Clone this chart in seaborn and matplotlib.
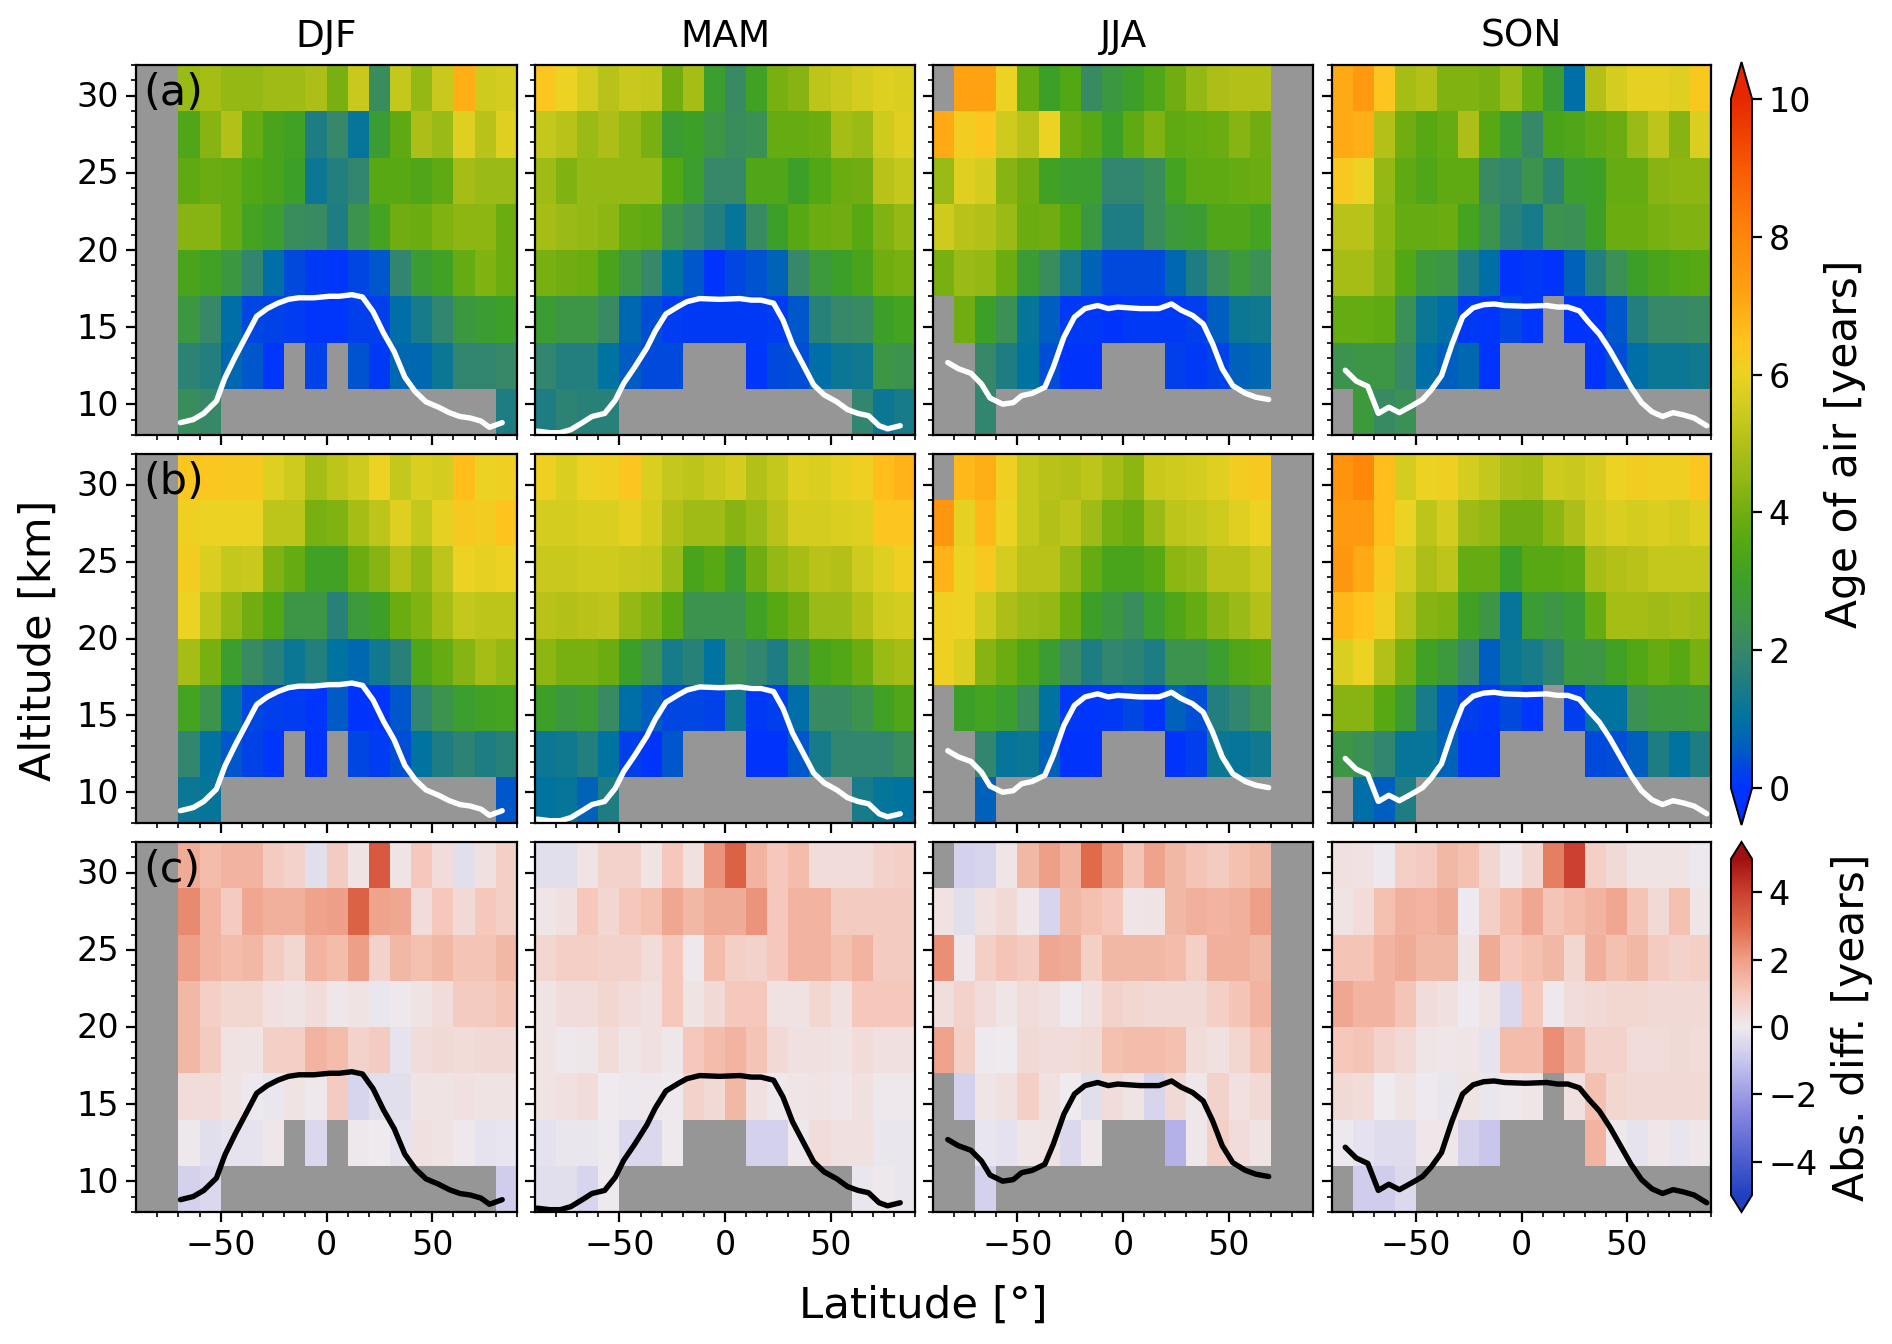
import numpy as np
import pandas as pd
import matplotlib
matplotlib.use('Agg')
import matplotlib.pyplot as plt
import seaborn as sns
from matplotlib.cm import ScalarMappable
from matplotlib.colors import LinearSegmentedColormap, Normalize
from matplotlib.ticker import FixedLocator, NullFormatter
from matplotlib.transforms import ScaledTranslation

n = np.nan

seasons = ['DJF', 'MAM', 'JJA', 'SON']
panel_tags = ['(a)', '(b)', '(c)']
lat_edges = np.arange(-90, 91, 10)
alt_edges = np.arange(32, 7, -3)

# rows go from the top layer (29-32 km) down to the bottom layer (8-11 km)
a_djf = [
    [n, n, 4.6, 4.8, 4.5, 4.5, 4.7, 4.7, 4.9, 4.1, 5.4, 2.2, 5.3, 4.5, 5.4, 6.9, 5.5, 5.6],
    [n, n, 3.4, 4.3, 5.0, 3.8, 3.3, 3.1, 1.5, 2.0, 1.1, 2.8, 3.7, 4.9, 4.6, 5.8, 5.1, 5.8],
    [n, n, 3.7, 3.9, 3.8, 3.5, 3.3, 3.0, 1.2, 1.6, 1.9, 3.6, 3.6, 3.4, 3.7, 4.8, 4.6, 4.6],
    [n, n, 4.3, 4.3, 3.8, 3.2, 2.9, 2.2, 2.1, 1.5, 2.4, 3.2, 4.0, 3.9, 4.2, 4.4, 4.4, 3.9],
    [n, n, 3.3, 3.1, 2.6, 1.9, 0.9, 0.35, 0.1, 0.05, 0.3, 0.5, 1.9, 2.8, 3.1, 3.8, 4.2, 3.9],
    [n, n, 2.6, 2.0, 0.9, 0.3, 0.25, 0.15, 0.05, 0.05, 0.2, 0.2, 0.9, 1.4, 1.9, 2.6, 2.8, 3.0],
    [n, n, 1.8, 1.6, 0.8, 0.5, 0.05, n, 0.25, n, 0.45, 0.1, 0.8, 0.8, 1.2, 1.9, 1.9, 2.0],
    [n, n, 2.2, 2.0, n, n, n, n, n, n, n, n, n, n, n, n, n, 1.5],
]
a_mam = [
    [6.4, 6.0, 5.6, 5.1, 5.4, 5.3, 4.0, 4.8, 2.9, 2.1, 3.1, 4.1, 4.3, 5.2, 5.4, 5.6, 5.8, 5.7],
    [5.3, 5.1, 4.6, 4.9, 4.5, 4.1, 2.8, 3.0, 2.5, 2.2, 2.3, 3.8, 3.8, 3.9, 4.8, 4.6, 5.5, 5.8],
    [4.7, 4.2, 4.5, 4.5, 4.5, 4.5, 3.5, 2.9, 2.0, 2.0, 3.4, 3.4, 3.0, 3.5, 3.9, 4.0, 5.1, 5.3],
    [4.8, 4.6, 4.5, 4.4, 3.8, 3.7, 2.4, 2.0, 1.6, 1.1, 2.1, 3.0, 3.6, 3.9, 4.0, 3.6, 4.2, 4.5],
    [4.1, 4.0, 3.9, 3.3, 2.5, 2.0, 1.0, 0.5, 0.02, 0.3, 0.45, 0.7, 2.0, 2.7, 3.0, 3.3, 4.0, 4.1],
    [2.8, 2.5, 2.5, 2.1, 0.8, 0.4, 0.15, 0.1, 0.1, 0.1, 0.1, 0.15, 0.5, 1.7, 2.0, 2.1, 3.0, 3.2],
    [1.9, 1.6, 1.6, 1.0, 0.55, 0.35, 0.35, n, n, n, 0.05, 0.35, 0.4, 0.9, 1.2, 1.3, 2.5, 2.4],
    [1.5, 1.8, 1.7, 1.7, n, n, n, n, n, n, n, n, n, n, n, 1.9, 1.2, 1.4],
]
a_jja = [
    [n, 7.2, 7.2, 6.0, 3.8, 3.0, 3.5, 2.1, 2.6, 3.0, 3.4, 4.0, 4.5, 4.9, 5.0, 5.0, n, n],
    [7.0, 6.2, 6.4, 5.5, 5.1, 6.0, 3.9, 3.6, 3.0, 3.7, 4.2, 3.7, 3.8, 3.9, 4.3, 4.0, n, n],
    [4.6, 5.8, 5.6, 4.3, 4.0, 3.1, 2.9, 2.9, 1.9, 1.9, 2.2, 3.2, 3.7, 3.7, 3.8, 3.9, n, n],
    [5.5, 5.1, 5.0, 4.6, 3.9, 4.0, 3.5, 2.6, 1.5, 1.5, 2.2, 2.7, 2.8, 3.4, 3.4, 3.2, n, n],
    [4.1, 4.6, 4.5, 3.9, 2.8, 2.2, 1.4, 0.7, 0.35, 0.35, 0.35, 0.8, 1.5, 2.2, 2.7, 2.3, n, n],
    [n, 4.0, 3.0, 2.3, 1.1, 0.6, 0.1, 0.1, 0.02, 0.1, 0.1, 0.1, 0.2, 0.6, 1.2, 1.3, n, n],
    [n, n, 2.0, 1.5, 1.0, 0.4, 0.02, 0.02, n, n, n, 0.2, 0.1, 0.25, 0.65, 0.8, n, n],
    [n, n, 1.9, n, n, n, n, n, n, n, n, n, n, n, n, n, n, n],
]
a_son = [
    [7.0, 7.4, 6.4, 4.8, 5.0, 4.2, 4.2, 4.1, 4.6, 3.8, 2.8, 0.9, 5.0, 5.6, 5.9, 5.9, 5.8, 6.3],
    [7.0, 6.9, 5.0, 4.0, 3.6, 3.8, 4.9, 3.6, 2.8, 2.0, 3.3, 3.4, 3.7, 3.9, 4.6, 5.2, 4.3, 5.7],
    [6.3, 6.0, 4.5, 3.7, 3.4, 3.7, 3.7, 2.1, 1.9, 2.4, 1.8, 2.9, 3.0, 3.8, 3.8, 4.3, 4.4, 4.4],
    [5.1, 5.1, 4.4, 3.8, 3.8, 3.9, 3.2, 2.4, 1.7, 1.4, 2.4, 2.3, 3.0, 3.9, 3.9, 4.1, 4.2, 4.2],
    [4.8, 4.8, 4.3, 3.5, 2.7, 2.5, 1.5, 0.9, 0.03, 0.1, 0.03, 0.65, 1.6, 2.3, 3.0, 3.3, 3.5, 3.6],
    [3.8, 3.8, 3.7, 2.3, 1.2, 0.9, 0.1, 0.05, 0.3, 0.05, n, 0.03, 0.05, 0.5, 1.6, 2.0, 2.0, 2.1],
    [2.4, 2.5, 2.5, 2.0, 0.9, 0.6, 0.8, 0.03, n, n, n, n, 0.03, 0.4, 0.9, 1.2, 1.2, 1.3],
    [n, 2.7, 2.1, 2.3, n, n, n, n, n, n, n, n, n, n, n, n, n, n],
]

b_djf = [
    [n, n, 6.4, 6.4, 6.3, 6.3, 5.8, 5.5, 4.8, 5.2, 5.5, 6.0, 5.3, 5.7, 5.6, 6.6, 6.0, 6.1],
    [n, n, 6.1, 6.0, 6.0, 6.0, 5.2, 5.2, 4.1, 4.2, 4.8, 5.2, 5.8, 5.3, 5.9, 6.3, 6.2, 6.5],
    [n, n, 6.2, 5.7, 5.3, 5.4, 4.2, 3.8, 3.1, 3.1, 3.9, 4.3, 5.0, 4.5, 5.2, 6.0, 5.9, 6.0],
    [n, n, 6.0, 5.2, 4.5, 4.0, 3.5, 2.5, 2.5, 1.7, 2.7, 3.0, 3.9, 4.2, 4.8, 5.3, 5.2, 5.2],
    [n, n, 4.8, 4.1, 2.9, 2.1, 1.7, 1.2, 1.6, 1.0, 0.8, 1.3, 1.7, 3.4, 3.8, 4.3, 4.8, 4.5],
    [n, n, 3.2, 2.4, 1.0, 0.3, 0.2, 0.15, 0.05, 0.55, 0.03, 0.05, 0.5, 1.9, 2.4, 2.9, 3.1, 3.2],
    [n, n, 1.9, 1.0, 0.5, 0.25, 0.05, n, 0.03, n, 0.3, 0.15, 0.4, 1.0, 1.5, 1.8, 1.5, 1.7],
    [n, n, 1.2, 1.1, n, n, n, n, n, n, n, n, n, n, n, n, n, 0.5],
]
b_mam = [
    [6.1, 5.7, 6.0, 6.1, 6.4, 5.7, 5.3, 5.2, 5.4, 5.6, 5.0, 5.3, 5.8, 5.7, 5.9, 6.1, 6.6, 6.8],
    [5.6, 5.6, 5.7, 5.7, 5.9, 5.6, 5.0, 4.7, 4.7, 4.3, 4.6, 5.1, 5.6, 5.6, 5.7, 5.8, 6.4, 6.4],
    [5.4, 5.4, 5.5, 5.5, 5.4, 5.3, 4.6, 3.3, 3.6, 2.9, 4.0, 4.5, 4.8, 5.1, 5.0, 5.5, 5.8, 6.1],
    [5.1, 5.0, 5.1, 5.2, 4.5, 4.2, 3.6, 2.4, 2.4, 2.4, 3.1, 3.6, 4.0, 4.6, 4.6, 5.0, 5.5, 5.6],
    [4.4, 4.1, 4.1, 3.9, 3.0, 2.3, 1.4, 1.7, 1.0, 2.2, 1.9, 1.5, 2.4, 3.3, 3.5, 3.9, 4.6, 4.8],
    [3.0, 2.6, 2.8, 2.1, 0.9, 0.6, 0.3, 0.3, 0.25, 1.3, 0.1, 0.2, 0.9, 2.1, 2.1, 2.4, 3.1, 3.4],
    [1.2, 1.3, 1.6, 1.0, 0.2, 0.02, 0.5, n, n, n, 0.02, 0.02, 0.5, 1.4, 1.9, 1.9, 1.9, 2.2],
    [1.0, 1.1, 0.7, 1.5, n, n, n, n, n, n, n, n, n, n, n, 1.4, 1.1, 1.0],
]
b_jja = [
    [n, 6.7, 6.9, 6.1, 5.3, 5.1, 5.0, 5.2, 4.8, 4.4, 5.4, 5.5, 5.6, 5.8, 6.2, 6.3, n, n],
    [7.5, 5.9, 6.7, 6.0, 5.3, 5.0, 5.2, 4.7, 4.1, 3.9, 4.6, 5.2, 5.3, 5.5, 5.8, 6.0, n, n],
    [6.8, 6.0, 6.3, 5.6, 5.1, 5.1, 4.5, 3.8, 3.3, 3.3, 3.6, 4.4, 4.5, 5.1, 5.1, 5.4, n, n],
    [6.1, 6.0, 5.5, 4.9, 4.6, 4.5, 3.9, 3.0, 2.6, 2.2, 2.9, 3.4, 3.8, 4.3, 4.6, 5.0, n, n],
    [6.1, 5.7, 4.3, 3.9, 3.4, 2.8, 2.1, 1.5, 1.9, 1.8, 1.5, 2.4, 2.4, 2.9, 3.4, 3.6, n, n],
    [n, 3.0, 3.2, 2.9, 2.2, 1.0, 0.1, 0.05, 0.1, 0.3, 0.03, 0.65, 0.4, 1.6, 1.9, 2.3, n, n],
    [n, n, 1.9, 1.1, 1.2, 0.65, 0.03, 0.03, n, n, n, 0.03, 0.2, 1.2, 1.1, 1.3, n, n],
    [n, n, 0.65, n, n, n, n, n, n, n, n, n, n, n, n, n, n, n],
]
b_son = [
    [7.6, 8.0, 6.6, 5.6, 6.0, 6.1, 5.6, 5.3, 4.9, 4.8, 5.5, 5.4, 5.6, 6.0, 6.2, 6.1, 6.1, 6.4],
    [7.4, 7.4, 6.6, 6.0, 5.2, 5.6, 4.7, 4.5, 4.0, 4.0, 4.4, 4.9, 5.5, 5.7, 5.6, 5.7, 5.6, 5.8],
    [7.5, 7.0, 6.3, 5.6, 4.9, 5.2, 3.8, 3.8, 3.0, 3.6, 3.6, 3.7, 4.8, 5.0, 5.1, 5.3, 5.3, 5.3],
    [6.7, 6.5, 6.1, 5.1, 4.3, 4.2, 3.1, 2.5, 1.1, 2.8, 2.5, 2.8, 3.8, 4.8, 4.8, 4.7, 4.8, 4.7],
    [5.7, 6.0, 5.0, 4.1, 3.1, 2.7, 2.0, 0.6, 1.2, 1.4, 1.8, 2.6, 2.5, 3.1, 3.5, 3.8, 3.6, 4.1],
    [4.3, 4.3, 3.6, 2.8, 1.4, 0.6, 0.2, 0.05, 0.35, 0.05, n, 0.2, 1.0, 1.0, 2.3, 2.6, 2.6, 2.7],
    [2.5, 2.3, 1.9, 1.1, 1.1, 0.7, 0.05, 0.03, n, n, n, n, 0.35, 0.4, 0.6, 1.5, 1.0, 1.5],
    [n, 0.9, 0.6, 1.5, n, n, n, n, n, n, n, n, n, n, n, n, n, n],
]

c_djf = [
    [n, n, 1.7, 1.3, 1.5, 1.5, 0.9, 0.7, -0.3, 0.9, 0.2, 3.4, 0.2, 1.0, 0.4, -0.3, 0.3, 0.8],
    [n, n, 2.4, 1.5, 0.9, 1.8, 1.6, 1.6, 1.9, 2.0, 3.2, 1.9, 1.8, 0.4, 1.0, 0.5, 1.0, 0.8],
    [n, n, 2.0, 1.5, 1.3, 1.4, 0.9, 0.6, 1.5, 1.3, 2.0, 0.7, 1.4, 1.2, 1.4, 1.1, 1.1, 1.4],
    [n, n, 1.4, 0.8, 0.6, 0.6, 0.3, 0.2, 0.4, 0.1, 0.2, -0.1, 0.05, 0.2, 0.4, 0.9, 0.9, 1.1],
    [n, n, 1.4, 0.9, 0.25, 0.2, 0.8, 0.8, 1.5, 1.3, 0.7, 0.9, -0.2, 0.4, 0.5, 0.4, 0.5, 0.5],
    [n, n, 0.4, 0.4, 0.2, -0.05, -0.1, 0.2, 0.05, 0.9, -0.6, -0.3, -0.3, 0.2, 0.2, 0.3, 0.2, 0.2],
    [n, n, 0.05, -0.3, -0.2, -0.2, 0.1, n, -0.5, n, 0.05, 0.0, -0.2, 0.3, 0.2, 0.05, -0.2, -0.15],
    [n, n, -0.7, -0.5, n, n, n, n, n, n, n, n, n, n, n, n, n, -0.8],
]
c_mam = [
    [-0.3, -0.3, 0.2, 0.7, 0.7, 0.2, 1.0, 0.3, 2.2, 3.2, 1.5, 1.0, 1.3, 0.4, 0.4, 0.4, 0.7, 0.8],
    [0.15, 0.3, 1.0, 0.6, 1.0, 1.2, 1.8, 1.4, 1.7, 1.7, 2.2, 1.0, 1.5, 1.5, 0.9, 0.9, 0.9, 0.9],
    [0.6, 0.8, 0.8, 0.7, 0.7, 0.4, 1.0, 0.05, 1.3, 0.8, 0.7, 1.0, 1.5, 1.5, 1.2, 1.5, 0.9, 0.9],
    [0.2, 0.4, 0.4, 0.6, 0.4, 0.3, 1.0, 0.2, 0.5, 1.0, 1.0, 0.25, 0.25, 0.6, 0.3, 1.0, 1.0, 1.0],
    [0.2, 0.05, 0.1, 0.4, 0.15, 0.3, 0.1, 1.0, 1.3, 1.5, 1.1, 0.5, 0.3, 0.3, 0.2, 0.4, 0.3, 0.3],
    [0.2, 0.3, 0.4, 0.0, -0.05, 0.05, 0.02, 0.7, 0.5, 1.4, 0.3, 0.05, 0.15, 0.2, 0.1, 0.3, 0.05, 0.05],
    [-0.25, -0.1, -0.1, -0.03, -0.5, -0.5, 0.03, n, n, n, -0.7, -0.7, 0.05, 0.4, 0.3, 0.3, -0.1, -0.1],
    [-0.35, -0.3, -0.6, -0.02, n, n, n, n, n, n, n, n, n, n, n, -0.1, 0.05, -0.1],
]
c_jja = [
    [n, -0.7, -0.6, 0.15, 1.4, 2.0, 1.5, 3.0, 2.1, 1.1, 1.9, 1.4, 1.1, 0.9, 1.2, 1.4, n, n],
    [0.25, -0.3, 0.3, 0.5, 0.1, -0.6, 1.4, 1.2, 1.0, 0.15, 0.2, 1.4, 1.6, 1.5, 1.6, 2.0, n, n],
    [2.3, 0.1, 0.8, 1.1, 0.9, 1.8, 1.7, 0.8, 1.4, 1.4, 1.4, 1.3, 0.8, 1.6, 1.6, 1.4, n, n],
    [0.35, 0.7, 0.4, 0.15, 0.4, 0.3, 0.02, 0.3, 0.7, 0.6, 0.5, 0.5, 0.5, 0.8, 1.1, 1.5, n, n],
    [1.9, 0.8, -0.02, 0.0, 0.5, 0.4, 0.4, 0.5, 1.2, 1.3, 1.3, 1.2, 0.4, 0.3, 0.6, 1.1, n, n],
    [n, -0.7, 0.15, 0.3, 0.8, 0.3, 0.0, -0.3, 0.4, 0.2, -0.6, 0.5, 0.1, 0.7, 0.3, 0.5, n, n],
    [n, n, -0.15, -0.25, 0.15, 0.2, -0.5, 0.08, n, n, n, -1.5, 0.1, 0.8, 0.4, 0.2, n, n],
    [n, n, -0.7, n, n, n, n, n, n, n, n, n, n, n, n, n, n, n],
]
c_son = [
    [0.3, 0.25, -0.05, 0.8, 0.9, 1.4, 1.2, 0.6, 0.1, 0.6, 2.6, 4.0, 0.8, 0.5, 0.2, 0.2, 0.2, -0.05],
    [0.2, 0.4, 1.2, 1.6, 1.5, 1.7, -0.03, 0.8, 1.3, 1.8, 1.1, 1.3, 1.5, 1.8, 1.1, 0.5, 1.2, 0.15],
    [1.1, 1.1, 1.5, 1.7, 1.4, 1.4, 0.2, 1.7, 1.0, 1.2, 1.4, 0.6, 1.6, 1.2, 1.4, 0.9, 0.7, 0.8],
    [1.8, 1.5, 1.5, 1.1, 0.4, 0.3, -0.03, 0.2, -0.5, 1.0, 0.05, 0.4, 0.5, 0.6, 0.6, 0.5, 0.5, 0.5],
    [1.0, 1.1, 0.7, 0.5, 0.15, 0.1, 0.15, -0.2, 1.3, 1.3, 2.3, 1.5, 0.7, 0.7, 0.4, 0.4, 0.5, 0.4],
    [0.5, 0.4, 0.0, 0.2, -0.02, -0.1, 0.2, -0.1, 0.05, 0.15, n, 0.3, 1.2, 0.6, 0.5, 0.5, 0.5, 0.5],
    [-0.05, -0.25, -0.4, -0.4, 0.1, 0.1, -0.7, -1.0, n, n, n, n, 1.5, 0.05, -0.2, 0.1, -0.15, 0.1],
    [n, -0.8, -0.8, -0.45, n, n, n, n, n, n, n, n, n, n, n, n, n, n],
]

# tropopause height, same line in every row of a season
tp_lat_djf = [-69, -63, -58, -52, -48, -43, -38, -33, -28, -23, -18, -13, -6, 1.5, 6, 12, 17, 22, 27, 32,
              37, 42, 47, 53, 58, 63, 68, 73, 77, 83]
tp_alt_djf = [8.8, 9.0, 9.4, 10.2, 11.7, 13.1, 14.4, 15.7, 16.2, 16.55, 16.8, 16.9, 16.9, 17.0, 17.0, 17.1,
              16.95, 16.0, 14.6, 13.4, 11.75, 10.8, 10.15, 9.8, 9.45, 9.2, 9.1, 8.9, 8.5, 8.8]
tp_lat_mam = [-89, -83, -78, -73, -67, -63, -57, -52, -48, -43, -37, -33, -28, -22, -18, -12, -2.5, 7, 12.5,
              17, 23, 27.5, 32, 37, 42, 47, 53, 58, 63, 68, 73, 77, 83]
tp_alt_mam = [8.25, 8.15, 8.15, 8.35, 8.85, 9.2, 9.4, 10.25, 11.35, 12.35, 13.65, 14.75, 15.85, 16.35, 16.65,
              16.85, 16.8, 16.85, 16.75, 16.75, 16.55, 15.45, 13.85, 12.55, 11.25, 10.6, 10.15, 9.65, 9.4, 9.25,
              8.6, 8.4, 8.6]
tp_lat_jja = [-83, -78, -72, -67, -63, -57, -52, -48, -43, -37, -33, -28, -23, -18, -12, -7, -2.5, 8, 17, 23,
              27.5, 33, 38, 42.5, 47, 52, 58, 63, 69]
tp_alt_jja = [12.7, 12.3, 12.0, 11.3, 10.4, 10.0, 10.1, 10.55, 10.7, 11.1, 12.4, 14.35, 15.65, 16.2, 16.4, 16.2,
              16.3, 16.2, 16.2, 16.5, 16.1, 15.75, 15.2, 13.9, 12.3, 11.2, 10.7, 10.45, 10.3]
tp_lat_son = [-83.7, -78.5, -73, -68, -63, -58, -52, -47, -43, -38, -33, -28, -23, -18, -13, -8, 2, 12, 17, 22,
              27.5, 32, 37, 42, 47, 52, 57, 62, 67, 72, 77, 82, 88]
tp_alt_son = [12.2, 11.5, 11.15, 9.4, 9.8, 9.45, 9.9, 10.3, 10.9, 11.85, 13.9, 15.65, 16.25, 16.45, 16.5, 16.4,
              16.35, 16.4, 16.3, 16.3, 16.05, 15.3, 14.55, 13.5, 12.3, 11.1, 10.1, 9.5, 9.2, 9.45, 9.3, 9.1, 8.6]

panels = [[a_djf, a_mam, a_jja, a_son],
          [b_djf, b_mam, b_jja, b_son],
          [c_djf, c_mam, c_jja, c_son]]
tp_lats = [tp_lat_djf, tp_lat_mam, tp_lat_jja, tp_lat_son]
tp_alts = [tp_alt_djf, tp_alt_mam, tp_alt_jja, tp_alt_son]

sns.set_theme(style='ticks', rc={'font.family': 'DejaVu Sans'})

age_nodes = [(0.0, '#0033ff'), (0.3, '#0046e1'), (0.6, '#005fbe'), (1.0, '#0073a0'), (1.5, '#1e7d82'),
             (2.0, '#378769'), (2.5, '#3c9646'), (3.0, '#3ca028'), (3.5, '#52a714'), (4.0, '#72ad10'),
             (4.5, '#94b814'), (5.0, '#b2c018'), (5.5, '#cfcb1e'), (6.0, '#ebd223'), (6.5, '#ffc31e'),
             (7.0, '#ffaa14'), (7.5, '#ff960f'), (8.0, '#ff870a'), (9.0, '#f85a05'), (10.0, '#e62800')]
age_cmap = LinearSegmentedColormap.from_list('age', [(v / 10, c) for v, c in age_nodes], N=512)
age_cmap.set_over('#e62800')
age_cmap.set_under('#0033ff')

diff_nodes = [(-5, '#2040c0'), (-2.5, '#8888e0'), (-1, '#c8c6ec'), (0, '#eeeaee'), (1, '#f5c8bb'),
              (2, '#ee9f87'), (3, '#e06a4a'), (4, '#cc4030'), (5, '#a01010')]
diff_cmap = LinearSegmentedColormap.from_list('diff', [((v + 5) / 10, c) for v, c in diff_nodes], N=512)
diff_cmap.set_over('#a01010')
diff_cmap.set_under('#2040c0')

W, H = 1892, 1344
lefts = [(136, 517), (535, 915), (933, 1313), (1332, 1711)]
rows = [(65, 435), (454, 823), (842, 1212)]
TICK = 24


def px_axes(fig, x0, x1, y0, y1):
    return fig.add_axes([x0 / W, 1 - y1 / H, (x1 - x0) / W, (y1 - y0) / H])


def lat_pos(lat):
    return (np.asarray(lat, dtype=float) - lat_edges[0]) / 10


def alt_pos(alt):
    return (alt_edges[0] - np.asarray(alt, dtype=float)) / 3


fig = plt.figure(figsize=(W / 100, H / 100), dpi=100)
label_shift = ScaledTranslation(0, -2 / 100, fig.dpi_scale_trans)

for r, (y0, y1) in enumerate(rows):
    for c, (x0, x1) in enumerate(lefts):
        ax = px_axes(fig, x0, x1, y0, y1)
        ax.set_facecolor('#969696')
        frame = pd.DataFrame(panels[r][c])
        if r < 2:
            sns.heatmap(frame, ax=ax, cmap=age_cmap, vmin=0, vmax=10, cbar=False)
            line_color = 'white'
        else:
            sns.heatmap(frame, ax=ax, cmap=diff_cmap, vmin=-5, vmax=5, cbar=False)
            line_color = 'black'
        sns.lineplot(x=lat_pos(tp_lats[c]), y=alt_pos(tp_alts[c]), ax=ax, color=line_color, lw=3.9,
                     sort=False, estimator=None)

        for s in ax.spines.values():
            s.set_visible(True)
            s.set_linewidth(1.6)
            s.set_color('black')

        ax.xaxis.set_major_locator(FixedLocator(lat_pos([-50, 0, 50])))
        ax.xaxis.set_minor_locator(FixedLocator(lat_pos(np.arange(-80, 91, 10))))
        ax.yaxis.set_major_locator(FixedLocator(alt_pos([10, 15, 20, 25, 30])))
        ax.yaxis.set_minor_locator(FixedLocator(alt_pos(np.arange(8, 33, 1))))
        ax.xaxis.set_minor_formatter(NullFormatter())
        ax.yaxis.set_minor_formatter(NullFormatter())
        ax.set_xticklabels(['\u221250', '0', '50'] if r == 2 else [], rotation=0)
        ax.set_yticklabels(['10', '15', '20', '25', '30'] if c == 0 else [], rotation=0)
        ax.tick_params(which='major', direction='out', length=7, width=1.6, labelsize=TICK, color='black',
                       left=True, bottom=True, labelcolor='black', pad=5)
        ax.tick_params(which='minor', direction='out', length=3.5, width=1.2, color='black',
                       left=True, bottom=True)
        for lab in ax.get_yticklabels():
            lab.set_transform(lab.get_transform() + label_shift)
        ax.set_xlabel('')
        ax.set_ylabel('')

        if r == 0:
            ax.set_title(seasons[c], fontsize=27, pad=13, color='black')
        if c == 0:
            ax.text(0.02, 0.925, panel_tags[r], transform=ax.transAxes, fontsize=31, va='center', ha='left',
                    color='black')

# colorbars: the box includes the two triangular ends
age_ax = px_axes(fig, 1731, 1752, 62, 825)
age_bar = fig.colorbar(ScalarMappable(Normalize(0, 10), age_cmap), cax=age_ax, extend='both', extendfrac=0.053,
                       ticks=[0, 2, 4, 6, 8, 10])
diff_ax = px_axes(fig, 1731, 1752, 842, 1212)
diff_bar = fig.colorbar(ScalarMappable(Normalize(-5, 5), diff_cmap), cax=diff_ax, extend='both',
                        ticks=[-4, -2, 0, 2, 4])
diff_bar.set_ticklabels(['\u22124', '\u22122', '0', '2', '4'])
for bar, label in [(age_bar, 'Age of air [years]'), (diff_bar, 'Abs. diff. [years]')]:
    bar.ax.tick_params(labelsize=TICK, length=7, width=1.6, color='black', labelcolor='black', pad=5)
    bar.outline.set_linewidth(1.4)
    bar.outline.set_edgecolor('black')
    bar.set_label(label, fontsize=30.5, color='black', labelpad=9)

fig.text(39 / W, 1 - 640 / H, 'Altitude [km]', rotation=90, fontsize=31, ha='center', va='center', color='black')
fig.text(923 / W, 1 - 1306 / H, 'Latitude [\u00b0]', fontsize=31.3, ha='center', va='center', color='black')

fig.savefig('out.png', dpi=100, facecolor='white')
